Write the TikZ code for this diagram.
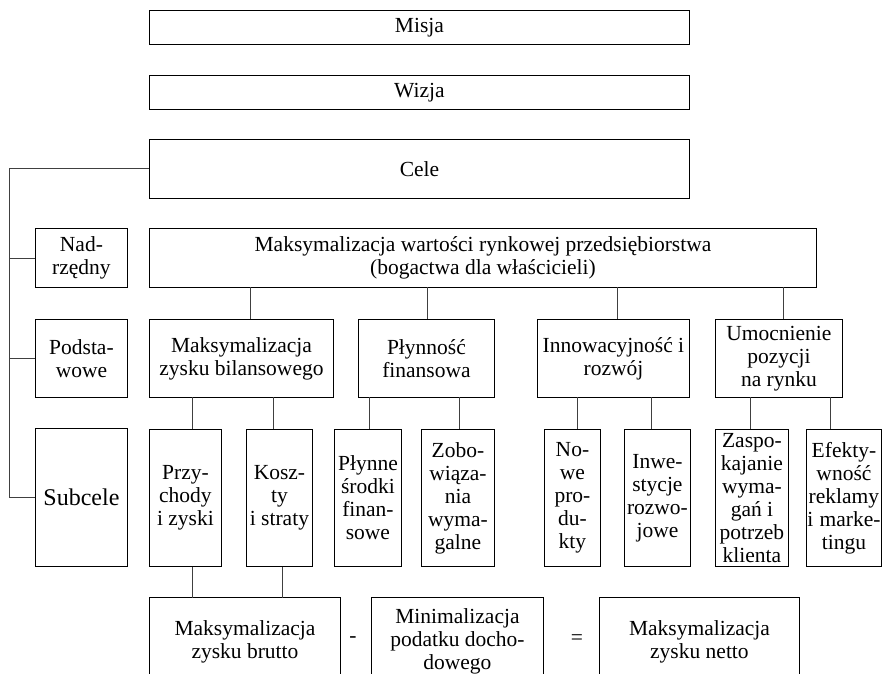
\documentclass[tikz,border=0pt]{standalone}
\usepackage{fontspec}
\setmainfont{Liberation Serif}
\usetikzlibrary{positioning}

\begin{document}
\begin{tikzpicture}[x=1pt, y=1pt, node distance=30pt]
\tikzset{box/.style={draw, line width=0.9pt, inner sep=0pt, anchor=north west, align=center, font=\fontsize{21.5}{23}\selectfont},
  link/.style={line width=0.9pt, black!75},
  sign/.style={font=\fontsize{21.5}{23}\selectfont}}
\useasboundingbox (0,0) rectangle (883,-673);
% mission, vision, goals
\node[box, minimum width=540, minimum height=34] (misja) at (149,-10) {Misja};
\node[box, minimum width=540, minimum height=34, below=of misja] (wizja) {Wizja};
\node[box, minimum width=540, minimum height=59, below=29pt of wizja] (cele) {Cele};
% level labels
\node[box, minimum width=92, minimum height=59] (nad) at (35,-228) {Nad-\\rzędny};
\node[box, minimum width=92, minimum height=78] (podst) at (35,-319) {Podsta-\\wowe};
\node[box, minimum width=92, minimum height=138, font=\fontsize{24}{26}\selectfont] (sub) at (35,-428) {Subcele};
% main goal
\node[box, minimum width=667, minimum height=59] (glowny) at (149,-228) {Maksymalizacja wartości rynkowej przedsiębiorstwa\\(bogactwa dla właścicieli)};
% basic goals
\node[box, minimum width=184, minimum height=78] (zysk) at (149,-319) {Maksymalizacja\\zysku bilansowego};
\node[box, minimum width=136, minimum height=78] (plyn) at (358,-319) {Płynność\\finansowa};
\node[box, minimum width=152, minimum height=78] (innow) at (537,-319) {Innowacyjność i\\rozwój};
\node[box, minimum width=127, minimum height=78] (umoc) at (715,-319) {Umocnienie\\pozycji\\na rynku};
% subgoals
\node[box, minimum width=72, minimum height=137] (przy) at (149,-429) {Przy-\\chody\\i zyski};
\node[box, minimum width=66, minimum height=137] (koszt) at (246,-429) {Kosz-\\ty\\i straty};
\node[box, minimum width=67, minimum height=137] (srodki) at (334,-429) {Płynne\\środki\\finan-\\sowe};
\node[box, minimum width=73, minimum height=137] (zobo) at (421,-429) {Zobo-\\wiąza-\\nia\\wyma-\\galne};
\node[box, minimum width=56, minimum height=137] (nowe) at (544,-429) {No-\\we\\pro-\\du-\\kty};
\node[box, minimum width=66, minimum height=137] (inwe) at (624,-429) {Inwe-\\stycje\\rozwo-\\jowe};
\node[box, minimum width=73, minimum height=137] (zaspo) at (715,-429) {Zaspo-\\kajanie\\wyma-\\gań i\\potrzeb\\klienta};
\node[box, minimum width=75, minimum height=137] (efekt) at (806,-429) {Efekty-\\wność\\reklamy\\i~\kern1pt marke-\\tingu};
% net profit equation
\node[box, minimum width=191, minimum height=88] (brutto) at (149,-597) {Maksymalizacja\\zysku brutto};
\node[sign] (minus) at (353,-640) {-};
\node[box, minimum width=172, minimum height=88] (podatek) at (371,-597) {Minimalizacja\\podatku docho-\\dowego};
\node[sign] (rowne) at (577,-640) {=};
\node[box, minimum width=200, minimum height=88] (netto) at (599,-597) {Maksymalizacja\\zysku netto};
% left bus
\coordinate (bus) at ([xshift=-140]cele.west);
\draw[link] (cele.west) -- (bus) |- (sub.west);
\draw[link] (nad.west) -- (nad.west -| bus);
\draw[link] (podst.west) -- (podst.west -| bus);
% main goal to basic goals
\draw[link] (zysk.north) ++(9,0) -- ++(0,32);
\draw[link] (plyn.north) ++(1,0) -- ++(0,32);
\draw[link] (innow.north) ++(4,0) -- ++(0,32);
\draw[link] (umoc.north) ++(4,0) -- ++(0,32);
% basic goals to subgoals
\draw[link] (przy.north) ++(7,0) -- ++(0,32);
\draw[link] (koszt.north) ++(-6,0) -- ++(0,32);
\draw[link] (srodki.north) ++(1,0) -- ++(0,32);
\draw[link] (zobo.north) ++(1,0) -- ++(0,32);
\draw[link] (nowe.north) ++(5,0) -- ++(0,32);
\draw[link] (inwe.north) ++(-6,0) -- ++(0,32);
\draw[link] (zaspo.north) ++(-2,0) -- ++(0,32);
\draw[link] (efekt.north) ++(-14,0) -- ++(0,32);
% subgoals to gross profit
\draw[link] (przy.south) ++(7,0) -- ++(0,-31);
\draw[link] (koszt.south) ++(3,0) -- ++(0,-31);
\end{tikzpicture}
\end{document}
